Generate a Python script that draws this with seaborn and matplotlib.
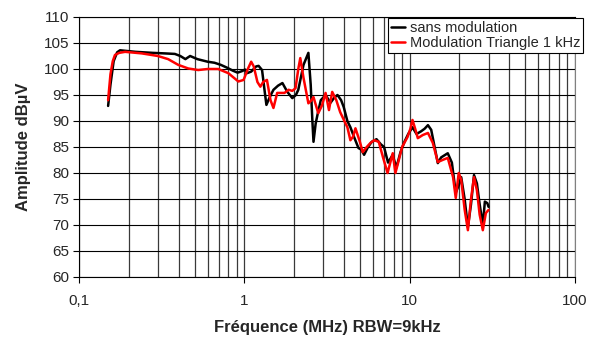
import numpy as np
import pandas as pd
import matplotlib
matplotlib.use("Agg")
import matplotlib.pyplot as plt
import seaborn as sns
from matplotlib.ticker import FixedLocator, NullFormatter, FixedFormatter

# Measured spectrum, no modulation (frequency in MHz, amplitude in dBµV)
freq_sans = [0.150, 0.155, 0.162, 0.170, 0.177, 0.19, 0.22, 0.28, 0.33, 0.38,
             0.41, 0.44, 0.47, 0.52, 0.60, 0.66, 0.72, 0.78, 0.85, 0.91,
             0.97, 1.01, 1.04, 1.10, 1.18, 1.22, 1.28, 1.33, 1.36, 1.42,
             1.50, 1.60, 1.70, 1.82, 1.95, 2.05, 2.12, 2.28, 2.44, 2.52,
             2.58, 2.62, 2.70, 2.77, 2.9, 3.1, 3.32, 3.5, 3.66, 3.85,
             3.99, 4.2, 4.38, 4.6, 4.9, 5.1, 5.3, 5.6, 5.9, 6.3,
             6.7, 7.0, 7.4, 7.9, 8.3, 8.8, 9.3, 9.8, 10.4, 11.0,
             11.7, 12.3, 12.9, 13.5, 14.8, 15.5, 17.0, 18.0, 19.0, 20.0,
             20.5, 21.5, 22.5, 23.5, 24.5, 25.5, 26.5, 27.7, 28.5, 29.5, 30.0]
ampl_sans = [92.9, 97.0, 101.5, 103.2, 103.6, 103.5, 103.3, 103.1, 103.0, 102.9,
             102.5, 101.9, 102.5, 101.9, 101.4, 101.2, 100.8, 100.3, 99.7, 99.3,
             99.6, 99.9, 99.2, 99.5, 100.5, 100.6, 99.8, 95.5, 93.1, 94.5,
             96.0, 96.8, 97.3, 95.6, 94.4, 95.0, 96.0, 100.8, 103.1, 97.0,
             90.0, 86.0, 89.5, 91.2, 94.0, 95.0, 93.5, 94.5, 95.0, 94.0,
             92.7, 90.0, 88.8, 87.0, 84.8, 84.5, 83.5, 85.0, 86.0, 86.5,
             85.5, 85.0, 82.0, 83.5, 81.0, 84.0, 86.0, 87.5, 88.8, 87.5,
             88.0, 88.5, 89.2, 88.3, 81.9, 83.0, 83.8, 82.0, 76.2, 78.0,
             79.2, 75.0, 69.6, 74.0, 79.6, 78.0, 74.0, 70.0, 74.5, 74.2, 73.5]

# Measured spectrum, triangle modulation 1 kHz
freq_tri = [0.150, 0.155, 0.160, 0.165, 0.175, 0.19, 0.24, 0.30, 0.346, 0.398,
            0.458, 0.526, 0.60, 0.695, 0.80, 0.92, 0.99, 1.05, 1.10, 1.14,
            1.20, 1.25, 1.30, 1.37, 1.44, 1.50, 1.58, 1.65, 1.75, 1.85,
            1.95, 2.04, 2.12, 2.18, 2.28, 2.44, 2.55, 2.62, 2.8, 2.95,
            3.1, 3.25, 3.4, 3.6, 3.8, 4.0, 4.2, 4.38, 4.55, 4.7,
            5.0, 5.2, 5.5, 5.8, 6.1, 6.5, 6.9, 7.35, 7.9, 8.2,
            8.6, 9.0, 9.7, 10.1, 10.4, 10.8, 11.2, 12.0, 12.9, 13.8,
            14.8, 15.8, 17.0, 18.3, 19.0, 19.8, 20.5, 21.5, 22.5, 23.5,
            24.5, 25.5, 26.5, 27.7, 28.9, 30.0]
ampl_tri = [94.0, 99.0, 101.5, 102.7, 103.1, 103.3, 103.0, 102.5, 101.9, 100.8,
            100.1, 99.8, 100.0, 100.0, 99.2, 97.6, 97.9, 100.0, 101.4, 100.5,
            97.5, 96.6, 97.5, 97.9, 94.0, 92.5, 95.4, 95.4, 95.4, 96.0,
            95.8, 96.3, 100.0, 102.1, 98.3, 93.4, 94.0, 94.6, 91.5, 93.0,
            95.4, 92.1, 95.6, 94.0, 91.7, 90.2, 88.8, 86.3, 87.0, 88.6,
            86.0, 84.0, 85.0, 85.8, 86.3, 86.0, 83.0, 80.0, 83.8, 80.0,
            82.5, 85.0, 86.9, 88.5, 90.2, 88.5, 86.7, 87.3, 87.7, 85.8,
            82.1, 82.5, 82.9, 79.2, 75.2, 80.0, 78.7, 73.0, 69.0, 75.0,
            79.2, 76.7, 72.0, 69.0, 72.3, 72.9]

series_names = ["sans modulation", "Modulation Triangle 1 kHz"]
series_colors = ["#000000", "#ff0000"]

x_ticks = [0.1, 1, 10, 100]
x_tick_labels = ["0,1", "1", "10", "100"]
y_ticks = list(range(60, 111, 5))

df = pd.concat([
    pd.DataFrame({"f": freq_sans, "a": ampl_sans, "serie": series_names[0]}),
    pd.DataFrame({"f": freq_tri, "a": ampl_tri, "serie": series_names[1]}),
], ignore_index=True)

sns.set_theme(style="white")
plt.rcParams["font.family"] = ["Liberation Sans", "DejaVu Sans"]

fig = plt.figure(figsize=(5.94, 3.40), dpi=100)
ax = fig.add_axes([79 / 594, 1 - 277 / 340, (575 - 79) / 594, (277 - 17) / 340])

sns.lineplot(data=df, x="f", y="a", hue="serie", hue_order=series_names,
             palette=series_colors, linewidth=1.8, sort=False,
             estimator=None, ax=ax, zorder=3)

ax.set_xscale("log")
ax.set_xlim(0.1, 100)
ax.set_ylim(60, 110)

# Grid: every decade subdivision vertically, every 5 dB horizontally
minor_pos = [m * 10.0 ** e for e in (-1, 0, 1) for m in range(2, 10)]
for p in minor_pos + x_ticks:
    ax.axvline(p, color="#3a3a3a", linewidth=0.9, zorder=1)
for v in y_ticks:
    ax.axhline(v, color="#000000", linewidth=0.8, zorder=1)

ax.xaxis.set_major_locator(FixedLocator(x_ticks))
ax.xaxis.set_major_formatter(FixedFormatter(x_tick_labels))
ax.xaxis.set_minor_locator(FixedLocator([]))
ax.xaxis.set_minor_formatter(NullFormatter())
ax.set_yticks(y_ticks)

ax.tick_params(axis="both", which="major", direction="out", length=4,
               width=0.8, color="black", labelsize=11, pad=3)
ax.tick_params(axis="x", pad=8)
ax.tick_params(bottom=True, left=True)

for s in ax.spines.values():
    s.set_color("#000000")
    s.set_linewidth(0.8)
ax.spines["right"].set_color("#808080")

ax.set_xlabel("Fréquence (MHz) RBW=9kHz", fontsize=12, fontweight="bold", labelpad=9)
ax.set_ylabel("Amplitude dBµV", fontsize=12, fontweight="bold", labelpad=9)

leg = ax.legend(loc="upper right", bbox_to_anchor=(583 / 594, 1 - 18 / 340),
                bbox_transform=fig.transFigure, fontsize=10.5, frameon=True,
                fancybox=False, edgecolor="black", framealpha=1,
                handlelength=1.0, handletextpad=0.3, borderpad=0.2,
                labelspacing=0.1, borderaxespad=0)
leg.get_frame().set_linewidth(0.8)
leg.set_zorder(5)

fig.savefig("out.png", dpi=100, facecolor="white")
